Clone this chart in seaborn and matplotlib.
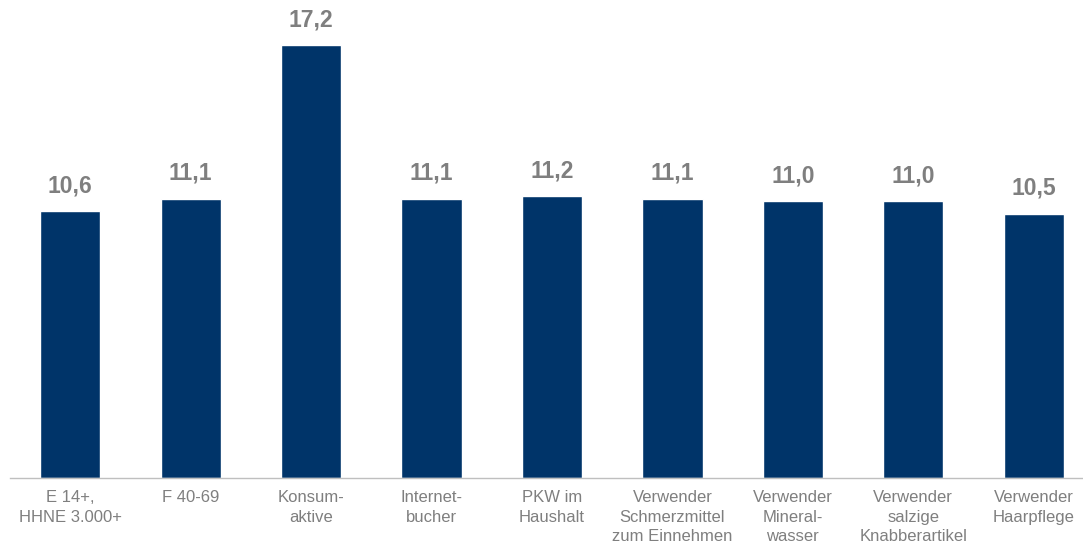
import matplotlib
matplotlib.use("Agg")
import matplotlib.pyplot as plt
import seaborn as sns
import pandas as pd

# %% Data
categories = [
    "E 14+,\nHHNE 3.000+",
    "F 40-69",
    "Konsum-\naktive",
    "Internet-\nbucher",
    "PKW im\nHaushalt",
    "Verwender\nSchmerzmittel\nzum Einnehmen",
    "Verwender\nMineral-\nwasser",
    "Verwender\nsalzige\nKnabberartikel",
    "Verwender\nHaarpflege",
]
values = [10.6, 11.1, 17.2, 11.1, 11.2, 11.1, 11.0, 11.0, 10.5]

df = pd.DataFrame({"Kategorie": categories, "Wert": values})

# %% Plot
sns.set_style("white")
plt.rcParams["font.family"] = ["Liberation Sans", "DejaVu Sans"]

fig = plt.figure(figsize=(10.83, 5.47), dpi=100)
ax = fig.add_axes([10 / 1083, 69 / 547, 1084 / 1083, 478 / 547])

sns.barplot(data=df, x="Kategorie", y="Wert", color="#003469", saturation=1,
            width=0.5, ax=ax)

ax.set_xlim(-0.5, len(categories) - 0.5)
ax.set_ylim(0, 19.0)

for i, v in enumerate(values):
    ax.annotate(f"{v:.1f}".replace(".", ","), (i, v), xytext=(0, 10),
                textcoords="offset points", ha="center", va="bottom",
                fontsize=16.5, fontweight="bold", color="#7f7f7f")

for side in ["top", "right", "left"]:
    ax.spines[side].set_visible(False)
ax.spines["bottom"].set_color("#bfbfbf")
ax.spines["bottom"].set_linewidth(1.0)

ax.set_yticks([])
ax.set_xlabel("")
ax.set_ylabel("")
ax.set_xticks(range(len(categories)))
ax.set_xticklabels(categories, fontsize=12, color="#7f7f7f", linespacing=1.35)
ax.tick_params(axis="x", which="major", length=0, pad=9)
ax.set_xticks([i - 0.5 for i in range(len(categories) + 1)], minor=True)
ax.tick_params(axis="x", which="minor", length=7, color="#bfbfbf", width=1.0)

fig.savefig("out.png", dpi=100)
